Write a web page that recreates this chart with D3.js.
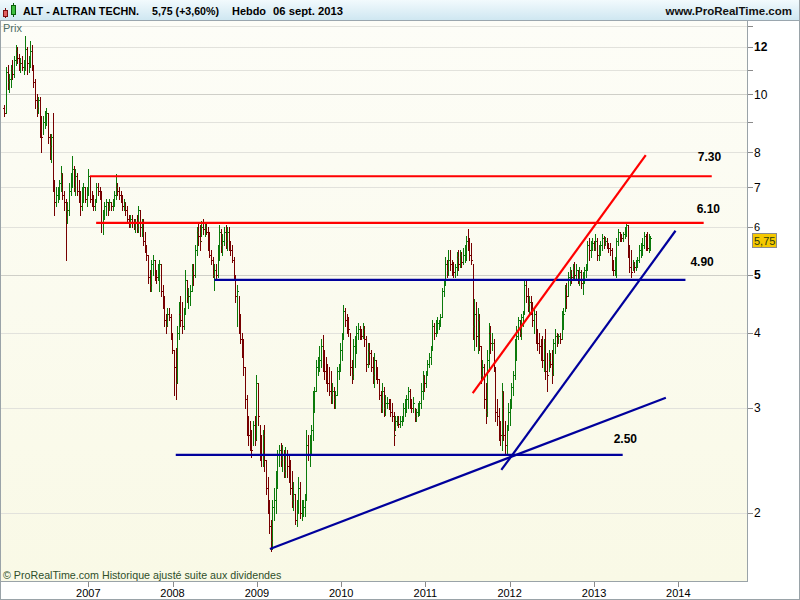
<!DOCTYPE html>
<html><head><meta charset="utf-8">
<script src="https://cdn.jsdelivr.net/npm/d3@7"></script>
<style>body{margin:0;background:#fff;}svg{display:block;font-family:"Liberation Sans",Arial,sans-serif;}</style>
</head><body><svg id="c" width="800" height="600"></svg>
<script>
// ---------- DATA ----------
const firstWeek = "2006-01-02";
const firstOpen = 9.5;
const closes = [
9.3,10.9,10.5,10.6,11.0,10.8,11.4,11.8,11.5,11.3,
11.3,11.1,11.2,11.9,11.3,11.4,11.8,11.2,10.5,9.8,
9.5,9.8,8.8,8.5,9.0,9.1,9.3,8.5,8.2,8.5,
7.1,6.6,6.8,6.9,7.1,7.4,6.8,6.6,6.4,6.4,
6.9,7.2,7.5,7.0,7.3,6.9,6.7,6.5,6.8,7.0,
6.7,6.9,7.3,6.7,6.6,6.5,6.6,7.0,6.9,6.8,
6.1,6.3,6.5,6.6,6.5,6.6,6.5,6.6,6.8,7.0,
6.9,6.8,6.7,6.5,6.6,6.4,6.2,6.1,6.2,6.1,
6.0,6.1,6.0,6.4,6.0,6.1,5.7,5.5,5.4,4.95,
4.8,5.2,5.3,5.0,4.95,5.0,5.2,4.7,4.5,4.2,
4.1,4.3,4.25,4.0,3.75,3.5,3.3,4.0,4.3,4.2,
4.1,4.3,4.9,4.6,4.6,4.7,5.1,5.0,5.5,5.9,
5.8,5.7,6.0,5.95,6.0,5.9,5.6,5.4,5.3,5.0,
5.1,5.0,5.5,5.9,5.6,5.7,5.9,5.7,5.9,5.6,
5.5,5.3,5.0,4.6,4.7,4.2,3.9,3.7,3.5,3.1,
2.8,2.7,2.6,2.55,2.8,2.65,3.3,2.9,2.55,2.5,
2.7,2.45,2.2,2.05,1.9,1.8,2.05,2.1,2.3,2.5,
2.55,2.45,2.5,2.35,2.5,2.4,2.3,2.2,2.1,2.15,
1.95,2.05,2.2,2.0,2.05,2.05,2.1,2.6,2.5,2.55,
2.75,3.1,3.2,3.5,3.55,3.6,3.8,3.6,3.45,3.4,
3.3,3.2,3.15,3.2,3.1,3.15,3.45,3.5,3.75,3.9,
4.35,4.2,4.15,4.05,3.5,3.4,3.8,3.85,4.0,4.05,
4.0,3.95,4.05,3.9,3.55,3.75,3.7,3.5,3.4,3.6,
3.45,3.35,3.15,3.05,3.2,3.0,3.05,3.05,3.02,2.95,
2.9,2.7,2.85,2.85,2.82,2.85,2.88,3.0,3.05,3.1,
3.2,3.05,3.0,3.05,2.9,2.95,3.0,3.05,3.2,3.4,
3.3,3.4,3.55,3.65,3.75,4.1,4.0,4.1,4.15,4.15,
4.25,4.7,4.8,5.2,5.1,5.3,5.2,5.1,5.05,5.15,
5.35,5.2,5.4,5.25,5.4,5.5,5.7,5.6,5.4,5.3,
4.1,4.3,3.95,4.2,3.8,3.4,3.5,3.1,2.95,3.6,
4.0,3.85,3.85,3.5,2.95,2.9,2.75,2.7,3.2,2.7,
2.6,2.75,2.95,3.05,3.25,3.4,3.85,3.95,4.2,4.0,
4.25,4.3,4.8,4.6,4.45,4.5,4.4,4.2,4.3,3.95,
3.85,3.8,3.75,3.6,3.85,3.45,3.4,3.6,3.55,3.4,
3.85,3.95,3.9,3.95,3.9,4.3,4.3,4.75,4.6,4.95,
5.05,4.95,5.1,5.0,5.1,4.9,5.05,4.85,4.95,5.1,
5.15,5.6,5.5,5.6,5.65,5.55,5.7,5.4,5.55,5.6,
5.75,5.65,5.7,5.6,5.55,5.5,5.2,5.1,5.3,5.7,
5.9,5.8,5.75,5.85,5.9,6.05,5.45,5.15,5.05,5.2,
5.15,5.2,5.3,5.5,5.55,5.6,5.8,5.6,5.55,5.55,
5.75];
const highs = [
9.6,11.1,11.2,10.8,11.2,11.4,11.6,12.1,12.0,11.7,
11.5,11.6,11.4,12.5,12.0,11.6,12.3,12.1,11.2,10.6,
10.0,9.9,9.9,9.2,9.2,9.4,9.5,9.3,8.6,8.6,
9.3,7.2,7.0,7.0,7.2,7.6,7.4,6.9,6.7,6.6,
7.1,7.4,7.9,7.6,7.5,7.4,7.2,6.9,7.0,7.1,
7.0,7.0,7.5,7.3,6.9,6.8,6.7,7.1,7.1,7.0,
6.9,6.4,6.6,6.7,6.6,6.7,6.6,6.7,6.9,7.35,
7.1,7.0,6.9,6.8,6.7,6.6,6.5,6.3,6.3,6.3,
6.2,6.2,6.3,6.5,6.4,6.2,6.2,5.9,5.6,5.4,
5.1,5.3,5.4,5.3,5.1,5.2,5.3,5.2,4.8,4.6,
4.3,4.4,4.4,4.3,4.0,3.75,3.77,4.1,4.5,4.6,
4.5,4.4,5.1,4.9,4.75,4.8,5.2,5.2,5.6,6.0,
6.1,6.05,6.15,6.2,6.1,6.1,6.0,5.9,5.5,5.35,
5.2,5.2,5.6,6.05,5.95,5.85,6.0,6.05,6.0,6.0,
5.7,5.6,5.35,5.0,4.8,4.6,4.3,4.0,3.9,3.5,
3.15,2.9,2.85,2.75,2.85,2.9,3.4,3.3,2.8,2.7,
2.75,2.8,2.45,2.3,2.1,1.95,2.1,2.2,2.35,2.55,
2.6,2.62,2.6,2.55,2.58,2.55,2.5,2.45,2.35,2.25,
2.15,2.1,2.3,2.25,2.1,2.1,2.15,2.75,2.7,2.7,
2.8,3.2,3.25,3.6,3.65,3.8,3.9,3.97,3.75,3.65,
3.55,3.5,3.45,3.3,3.25,3.2,3.5,3.55,3.85,4.0,
4.45,4.4,4.3,4.25,4.0,3.6,3.9,3.95,4.1,4.15,
4.1,4.05,4.15,4.1,3.95,3.85,3.85,3.75,3.65,3.7,
3.6,3.5,3.35,3.2,3.3,3.25,3.15,3.12,3.1,3.1,
3.05,2.95,2.9,2.9,2.9,2.9,2.9,3.05,3.1,3.15,
3.25,3.22,3.1,3.12,3.0,2.98,3.05,3.08,3.3,3.45,
3.4,3.45,3.6,3.7,3.8,4.2,4.15,4.2,4.25,4.2,
4.3,4.75,4.9,5.35,5.3,5.5,5.5,5.3,5.25,5.2,
5.45,5.5,5.5,5.45,5.55,5.6,5.8,5.95,5.75,5.65,
5.2,4.55,4.5,4.4,4.3,3.8,3.6,3.55,3.3,3.75,
4.15,4.1,4.0,3.9,3.5,3.1,3.0,2.85,3.3,3.2,
2.85,2.8,3.05,3.1,3.3,3.45,3.9,4.1,4.25,4.2,
4.3,4.35,4.9,4.9,4.75,4.6,4.6,4.5,4.4,4.35,
4.05,4.0,3.9,3.95,3.9,4.05,3.7,3.75,3.7,3.75,
3.9,4.05,4.0,3.98,4.0,4.35,4.4,4.8,4.85,5.05,
5.15,5.1,5.2,5.25,5.2,5.1,5.15,5.1,5.05,5.15,
5.2,5.7,5.75,5.7,5.75,5.7,5.85,5.75,5.6,5.7,
5.85,5.8,5.78,5.75,5.65,5.65,5.55,5.3,5.35,5.75,
5.95,5.9,5.85,5.9,6.0,6.1,6.05,5.6,5.5,5.3,
5.25,5.3,5.35,5.6,5.65,5.75,5.9,5.85,5.9,5.85,
5.8];
const lows = [
9.2,9.3,10.2,10.1,10.3,10.6,10.7,11.2,11.3,11.0,
10.9,11.0,10.8,11.0,10.8,10.9,11.1,11.0,10.3,9.5,
9.2,9.3,8.5,8.0,8.6,8.8,8.9,8.3,7.8,7.7,
6.9,6.3,6.5,6.6,6.7,6.9,6.7,6.4,5.3,6.1,
6.3,6.8,7.0,6.9,6.8,6.8,6.6,6.3,6.4,6.6,
6.6,6.5,6.8,6.6,6.5,6.4,6.4,6.6,6.8,6.7,
5.9,5.85,6.2,6.3,6.3,6.4,6.4,6.4,6.5,6.7,
6.8,6.7,6.6,6.4,6.4,6.3,6.1,6.0,6.0,6.0,
5.95,5.9,5.9,5.9,5.8,5.8,5.6,5.45,5.3,4.85,
4.7,4.7,5.0,4.9,4.85,4.9,4.7,4.6,4.4,4.1,
4.0,4.1,4.2,3.9,3.7,3.15,3.1,3.3,3.9,4.1,
4.0,4.05,4.3,4.5,4.4,4.45,4.7,4.8,4.95,5.4,
5.6,5.5,5.8,5.85,5.8,5.85,5.5,5.35,5.2,4.95,
4.72,4.9,4.95,5.3,5.45,5.4,5.6,5.55,5.5,5.5,
5.4,5.25,4.9,4.5,4.1,4.0,3.85,3.65,3.4,3.0,
2.7,2.6,2.55,2.48,2.6,2.6,2.65,2.8,2.45,2.4,
2.4,2.35,2.15,2.0,1.85,1.73,1.74,1.95,2.0,2.2,
2.4,2.4,2.35,2.3,2.3,2.3,2.25,2.15,2.05,2.02,
1.92,1.9,2.0,1.96,1.95,1.98,1.98,2.1,2.45,2.4,
2.5,2.65,2.95,3.2,3.4,3.45,3.5,3.45,3.35,3.3,
3.2,3.15,3.05,3.05,3.0,3.0,3.15,3.35,3.45,3.6,
3.9,4.1,4.0,3.95,3.4,3.3,3.35,3.5,3.7,3.9,
3.9,3.9,3.92,3.8,3.45,3.5,3.55,3.45,3.3,3.25,
3.35,3.3,3.1,2.95,2.95,2.9,2.92,3.0,2.98,2.9,
2.85,2.6,2.75,2.8,2.78,2.78,2.8,2.85,2.9,2.95,
3.0,3.0,2.95,2.95,2.85,2.85,2.9,2.92,3.0,3.1,
3.2,3.25,3.4,3.5,3.55,3.75,3.9,3.95,4.0,4.05,
4.1,4.25,4.6,4.8,4.95,5.0,5.1,5.0,4.95,4.95,
5.0,5.1,5.15,5.15,5.2,5.25,5.3,5.5,5.3,5.2,
3.9,3.75,3.8,3.7,3.75,3.3,3.35,3.0,2.83,2.9,
3.45,3.7,3.75,3.45,2.85,2.8,2.65,2.6,2.55,2.65,
2.5,2.52,2.75,2.8,3.0,3.15,3.35,3.6,3.9,3.95,
3.9,4.1,4.3,4.5,4.35,4.3,4.3,4.1,4.0,3.85,
3.75,3.7,3.6,3.5,3.45,3.35,3.2,3.45,3.5,3.3,
3.4,3.7,3.8,3.85,3.85,3.9,4.05,4.35,4.4,4.6,
4.8,4.85,4.9,4.9,4.92,4.85,4.8,4.75,4.65,4.85,
4.95,5.1,5.3,5.35,5.5,5.5,5.5,5.3,5.3,5.4,
5.5,5.55,5.6,5.55,5.45,5.4,5.1,5.0,5.0,4.95,
5.6,5.7,5.7,5.7,5.75,5.8,5.35,5.05,4.95,5.1,
5.05,5.1,5.15,5.25,5.35,5.4,5.55,5.5,5.5,5.45,
5.5];

const yTicks = [2,3,4,5,6,7,8,9,10,11,12,13];
const yLabelValues = [2,3,4,5,6,7,8,10,12];
const yBoldValues = [5,12];
const yDarkGrid = [5,10];
const xYears = [2007,2008,2009,2010,2011,2012,2013,2014];

const levelValues = [7.30, 6.10, 4.90, 2.50];
const levelLabels = ["7.30","6.10","4.90","2.50"];
const levelFrom = ["2007-01-08","2007-02-04","2008-06-30","2008-01-15"];
const levelTo = ["2014-05-26","2014-04-21","2014-02-01","2013-05-05"];
const levelColors = ["#ff0000","#ff0000","#00009c","#00009c"];

const trendFromDate = ["2011-07-25","2011-11-26","2009-02-26"];
const trendFromValue = [3.17, 2.36, 1.742];
const trendToDate = ["2013-08-13","2013-12-20","2013-11-08"];
const trendToValue = [7.92, 5.92, 3.115];
const trendColors = ["#ff0000","#00009c","#00009c"];

const headerTexts = ["ALT - ALTRAN TECHN.", "5,75 (+3,60%)", "Hebdo", "06 sept. 2013"];
const lastPrice = "5,75";
const lastValue = 5.75;

// ---------- LAYOUT ----------
const L = {plotL:1, plotR:747, plotT:21, plotB:581};
const labelDx = [-14,-7,5,-9], labelDy = [-15,-10,-14,-12];
const headerX = [23, 152, 232, 273], headerW = [116, 67, 34, 70];

const svg = d3.select("#c");
const parse = d3.utcParse("%Y-%m-%d");
const x = d3.scaleUtc().domain([parse("2007-01-01"), parse("2014-01-01")]).range([88.3, 678.3]);
const y = d3.scaleLog().domain([12, 2]).range([47, 513]);
const start = parse(firstWeek);
const dates = closes.map((_, i) => d3.utcDay.offset(start, 7 * i));
const opens = closes.map((c, i) => i === 0 ? firstOpen : closes[i - 1]);

const defs = svg.append("defs");
const hg = defs.append("linearGradient").attr("id","hdr").attr("x1",0).attr("y1",0).attr("x2",0).attr("y2",1);
hg.append("stop").attr("offset","0%").attr("stop-color","#f2fafd");
hg.append("stop").attr("offset","100%").attr("stop-color","#cfe7f1");
const pg = defs.append("linearGradient").attr("id","plotbg").attr("x1",0).attr("y1",0).attr("x2",0).attr("y2",1);
pg.append("stop").attr("offset","0%").attr("stop-color","#fdfdf7");
pg.append("stop").attr("offset","100%").attr("stop-color","#f9f9e6");
defs.append("clipPath").attr("id","clip").append("rect")
  .attr("x",L.plotL).attr("y",L.plotT).attr("width",L.plotR-L.plotL).attr("height",L.plotB-L.plotT);

// background
svg.append("rect").attr("width",800).attr("height",600).attr("fill","#fff");
svg.append("rect").attr("x",L.plotL).attr("y",L.plotT).attr("width",L.plotR-L.plotL).attr("height",L.plotB-L.plotT).attr("fill","url(#plotbg)");

// header
svg.append("rect").attr("x",0).attr("y",0).attr("width",800).attr("height",20).attr("fill","url(#hdr)");
svg.append("line").attr("x1",0).attr("x2",800).attr("y1",20.5).attr("y2",20.5).attr("stroke","#9aa6ae");
const icon = svg.append("g").attr("shape-rendering","crispEdges");
icon.append("line").attr("x1",5.5).attr("x2",5.5).attr("y1",8).attr("y2",18).attr("stroke","#7a1010");
icon.append("rect").attr("x",3.5).attr("y",10.5).attr("width",4).attr("height",6).attr("fill","#e06060").attr("stroke","#7a1010");
icon.append("line").attr("x1",13.5).attr("x2",13.5).attr("y1",3).attr("y2",17).attr("stroke","#0a600a");
icon.append("rect").attr("x",11.5).attr("y",5.5).attr("width",4).attr("height",9).attr("fill","#40c040").attr("stroke","#0a600a");
const ht = svg.append("g").attr("font-size",11.5).attr("font-weight","bold").attr("fill","#000");
ht.selectAll("text").data(headerTexts).join("text")
  .attr("x",(d,i)=>headerX[i]).attr("y",15)
  .attr("textLength",(d,i)=>headerW[i]).attr("lengthAdjust","spacingAndGlyphs")
  .text(d=>d);
ht.append("text").attr("x",792).attr("y",15).attr("text-anchor","end").attr("font-size",11.5).attr("fill","#111").text("www.ProRealTime.com");

// grid
const grid = svg.append("g").attr("shape-rendering","crispEdges");
grid.selectAll("line").data(yTicks).join("line")
  .attr("x1",L.plotL).attr("x2",L.plotR)
  .attr("y1",d=>Math.round(y(d))+0.5).attr("y2",d=>Math.round(y(d))+0.5)
  .attr("stroke",d=>yDarkGrid.includes(d)?"#cfcfc8":"#e2e2dc");

// bars
const bars = svg.append("g").attr("clip-path","url(#clip)").attr("shape-rendering","crispEdges");
const idx = d3.range(closes.length);
const bx = i => Math.round(x(dates[i]));
const col = i => closes[i] >= opens[i] ? "#0b7a0b" : "#760000";
bars.selectAll("rect.v").data(idx).join("rect").attr("class","v")
  .attr("x",i=>bx(i)).attr("y",i=>Math.round(y(highs[i])))
  .attr("width",1).attr("height",i=>Math.max(1,Math.round(y(lows[i]))-Math.round(y(highs[i]))+1))
  .attr("fill",col);
bars.selectAll("rect.o").data(idx).join("rect").attr("class","o")
  .attr("x",i=>bx(i)-1).attr("y",i=>Math.round(y(opens[i])))
  .attr("width",1).attr("height",1).attr("fill",col);
bars.selectAll("rect.c").data(idx).join("rect").attr("class","c")
  .attr("x",i=>bx(i)+1).attr("y",i=>Math.round(y(closes[i])))
  .attr("width",1).attr("height",1).attr("fill",col);

// level lines
const lv = svg.append("g").attr("clip-path","url(#clip)");
lv.selectAll("line").data(levelValues).join("line")
  .attr("x1",(d,i)=>x(parse(levelFrom[i]))).attr("x2",(d,i)=>x(parse(levelTo[i])))
  .attr("y1",d=>y(d)).attr("y2",d=>y(d))
  .attr("stroke",(d,i)=>levelColors[i]).attr("stroke-width",2.2);
// trend lines
lv.selectAll("line.t").data(trendFromDate).join("line").attr("class","t")
  .attr("x1",d=>x(parse(d))).attr("y1",(d,i)=>y(trendFromValue[i]))
  .attr("x2",(d,i)=>x(parse(trendToDate[i]))).attr("y2",(d,i)=>y(trendToValue[i]))
  .attr("stroke",(d,i)=>trendColors[i]).attr("stroke-width",2.2);
// level labels
svg.append("g").attr("font-size",12).attr("font-weight","bold").attr("fill","#000")
  .selectAll("text").data(levelLabels).join("text")
  .attr("x",(d,i)=>x(parse(levelTo[i]))+labelDx[i])
  .attr("y",(d,i)=>y(levelValues[i])+labelDy[i])
  .text(d=>d);

// frame
const fr = svg.append("g").attr("shape-rendering","crispEdges").attr("stroke","#9aa3a8").attr("fill","none");
fr.append("line").attr("x1",0.5).attr("x2",0.5).attr("y1",21).attr("y2",600);
fr.append("line").attr("x1",747.5).attr("x2",747.5).attr("y1",21).attr("y2",582);
fr.append("line").attr("x1",0).attr("x2",748).attr("y1",581.5).attr("y2",581.5);
fr.append("line").attr("x1",799.5).attr("x2",799.5).attr("y1",0).attr("y2",600);
fr.append("line").attr("x1",0).attr("x2",800).attr("y1",599.5).attr("y2",599.5);

// y axis
const ya = svg.append("g").attr("font-size",12).attr("fill","#000");
ya.selectAll("line").data(yTicks).join("line").attr("shape-rendering","crispEdges")
  .attr("x1",748).attr("x2",753).attr("y1",d=>Math.round(y(d))+0.5).attr("y2",d=>Math.round(y(d))+0.5)
  .attr("stroke","#8a8a8a");
ya.selectAll("text").data(yLabelValues).join("text")
  .attr("x",754).attr("y",d=>y(d)).attr("dy","0.36em")
  .attr("font-size",d=>d===6?11:12)
  .attr("font-weight",d=>yBoldValues.includes(d)?"bold":"normal")
  .text(d=>d);
// last price tag
const tagY = Math.round(y(lastValue));
svg.append("rect").attr("shape-rendering","crispEdges").attr("x",752.5).attr("y",tagY-4.5).attr("width",24).attr("height",14)
  .attr("fill","#f5c800").attr("stroke","#8c8c8c");
svg.append("text").attr("x",754).attr("y",tagY+6.5).attr("font-size",11).attr("fill","#2a3a10").text(lastPrice);

// x axis
const xa = svg.append("g").attr("font-size",11).attr("fill","#000");
xa.selectAll("line").data(xYears).join("line").attr("shape-rendering","crispEdges")
  .attr("x1",d=>Math.round(x(parse(d+"-01-01")))+0.5).attr("x2",d=>Math.round(x(parse(d+"-01-01")))+0.5)
  .attr("y1",582).attr("y2",587).attr("stroke","#8a8a8a");
xa.selectAll("text").data(xYears).join("text")
  .attr("x",d=>x(parse(d+"-01-01"))).attr("y",597).attr("text-anchor","middle").text(d=>d);

// texts
svg.append("text").attr("x",3).attr("y",32).attr("font-size",11).attr("fill","#4d6d64").text("Prix");
svg.append("text").attr("x",3).attr("y",579).attr("font-size",10.7).attr("fill","#2f4f2a").text("© ProRealTime.com Historique ajusté suite aux dividendes");
</script></body></html>
